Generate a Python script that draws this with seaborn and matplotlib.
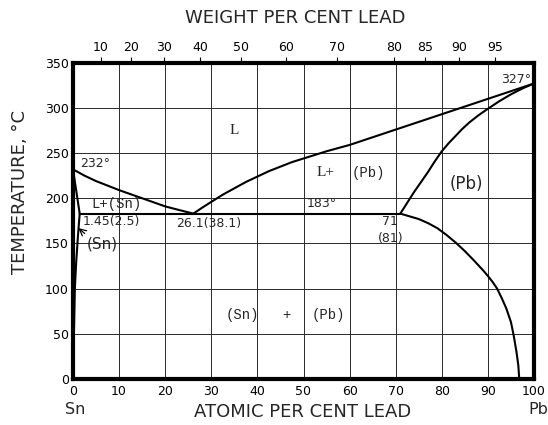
import matplotlib
matplotlib.use("Agg")
import matplotlib.pyplot as plt
import seaborn as sns
import numpy as np

# ---------------- data (atomic % Pb, temperature degC) ----------------
liq_sn_x = [0, 2.5, 5, 7.5, 10, 12.5, 15, 17.5, 20, 23, 26.1]
liq_sn_t = [232, 225, 219, 214, 209, 204.5, 200, 195.5, 191, 187, 183]

liq_pb_x = [26.1, 28, 30, 32.5, 35, 37.5, 40, 42.5, 45, 47.5, 50, 55, 60,
            65, 70, 75, 80, 85, 90, 95, 100]
liq_pb_t = [183, 189.5, 196, 204, 211, 218, 224, 230, 235, 240, 244, 252, 259,
            267.5, 276, 284.5, 293, 301.5, 310, 318.5, 327]

sol_pb_x = [71, 72.5, 74, 75.5, 77, 78.5, 80, 81.5, 83, 84.5, 86, 88, 90,
            92.5, 95, 97.5, 100]
sol_pb_t = [183, 195, 207, 218, 229, 241, 252, 261, 269, 277, 284, 292, 299,
            307.5, 315, 321.5, 327]

solv_pb_x = [71, 73, 75, 77, 79, 81, 83, 85, 87, 89, 90, 91, 92, 93, 94,
             95, 95.6, 96.2, 96.6, 96.8]
solv_pb_t = [183, 180, 177, 172.5, 167, 159.5, 151, 141.5, 131, 120, 114,
             107.5, 100, 89.5, 78, 63, 48, 30, 15, 0]

sol_sn_x = [0, 1.45]
sol_sn_t = [232, 183]

solv_sn_x = [1.45, 1.1, 0.7, 0.4, 0.2, 0.1]
solv_sn_t = [183, 160, 130, 100, 50, 0]

eut_x = [1.45, 71]
eut_t = [183, 183]

x_ticks = list(range(0, 101, 10))
y_ticks = list(range(0, 351, 50))
wt_labels = [10, 20, 30, 40, 50, 60, 70, 80, 85, 90, 95]
M_SN, M_PB = 118.71, 207.2

# ---------------- style ----------------
sns.set_theme(style="white")
plt.rcParams['font.family'] = ['DejaVu Sans']

fig = plt.figure(figsize=(5.48, 4.25), dpi=100)
ax = fig.add_axes([73 / 548, 1 - 379 / 425, (534 - 73) / 548, (379 - 62.7) / 425])
ax.set_xlim(0, 100)
ax.set_ylim(0, 350)

# grid
for gx in x_ticks[1:-1]:
    ax.axvline(gx, color='#2a2a2a', lw=0.7, zorder=1)
for gy in y_ticks[1:-1]:
    ax.axhline(gy, color='#2a2a2a', lw=0.7, zorder=1)

curves = [(liq_sn_x, liq_sn_t), (liq_pb_x, liq_pb_t), (sol_pb_x, sol_pb_t),
          (solv_pb_x, solv_pb_t), (sol_sn_x, sol_sn_t), (solv_sn_x, solv_sn_t),
          (eut_x, eut_t)]
for cx, ct in curves:
    sns.lineplot(x=cx, y=ct, ax=ax, color='black', lw=1.5, sort=False,
                 estimator=None, zorder=3)

for sp in ax.spines.values():
    sp.set_linewidth(3)
    sp.set_color('black')
    sp.set_visible(True)

ax.set_xticks(x_ticks)
ax.set_yticks(y_ticks)
ax.tick_params(axis='both', length=0, labelsize=9, colors='black')
ax.tick_params(axis='x', pad=4)
ax.tick_params(axis='y', pad=3)

# top (weight %) axis
def wt_to_at(w):
    w = np.asarray(w, dtype=float)
    a = (w / M_PB) / (w / M_PB + (100 - w) / M_SN)
    return 100 * a

ax2 = ax.twiny()
ax2.set_xlim(0, 100)
ax2.set_xticks(wt_to_at(wt_labels))
ax2.set_xticklabels([str(w) for w in wt_labels])
ax2.tick_params(axis='x', direction='out', length=4, width=0.8, labelsize=9,
                pad=2, colors='black')
for sp in ax2.spines.values():
    sp.set_visible(False)
ax2.grid(False)
ax.grid(False)

# labels
fig.text(20 / 548, 1 - 192 / 425, 'TEMPERATURE, °C', rotation=90,
         ha='center', va='center', fontsize=13)
fig.text(303 / 548, 1 - 412 / 425, 'ATOMIC PER CENT LEAD',
         ha='center', va='center', fontsize=13)
fig.text(295 / 548, 1 - 18 / 425, 'WEIGHT PER CENT LEAD',
         ha='center', va='center', fontsize=13)
fig.text(75 / 548, 1 - 409 / 425, 'Sn', ha='center', va='center', fontsize=11.5)
fig.text(538 / 548, 1 - 410 / 425, 'Pb', ha='center', va='center', fontsize=11.5)

mono = 'Liberation Mono'
serif = 'Liberation Serif'
ax.text(1.5, 239, '232°', ha='left', va='center', fontsize=9)
ax.text(35, 275, 'L', ha='center', va='center', fontsize=11, family=serif)
ax.text(9.4, 194, 'L+(Sn)', ha='center', va='center', fontsize=10, family=mono)
ax.text(2.0, 174, '1.45(2.5)', ha='left', va='center', fontsize=9)
ax.text(29.4, 172, '26.1(38.1)', ha='center', va='center', fontsize=9)
ax.text(6.4, 149, '(Sn)', ha='center', va='center', fontsize=11)
ax.annotate('', xy=(0.7, 169), xytext=(3.0, 159),
            arrowprops=dict(arrowstyle='->', color='black', lw=0.9))
ax.text(52.9, 228, 'L+', ha='left', va='center', fontsize=11, family=serif)
ax.text(60.4, 228, '(Pb)', ha='left', va='center', fontsize=10, family=mono)
ax.text(53.9, 194, '183°', ha='center', va='center', fontsize=9)
ax.text(85.4, 216, '(Pb)', ha='center', va='center', fontsize=12)
ax.text(68.8, 174, '71', ha='center', va='center', fontsize=9)
ax.text(69.0, 155, '(81)', ha='center', va='center', fontsize=9)
ax.text(99.3, 331, '327°', ha='right', va='center', fontsize=9)
ax.text(36.7, 71, '(Sn)', ha='center', va='center', fontsize=10, family=mono)
ax.text(46.4, 71, '+', ha='center', va='center', fontsize=10, family=mono)
ax.text(55.5, 71, '(Pb)', ha='center', va='center', fontsize=10, family=mono)

fig.savefig('out.png', dpi=100)
